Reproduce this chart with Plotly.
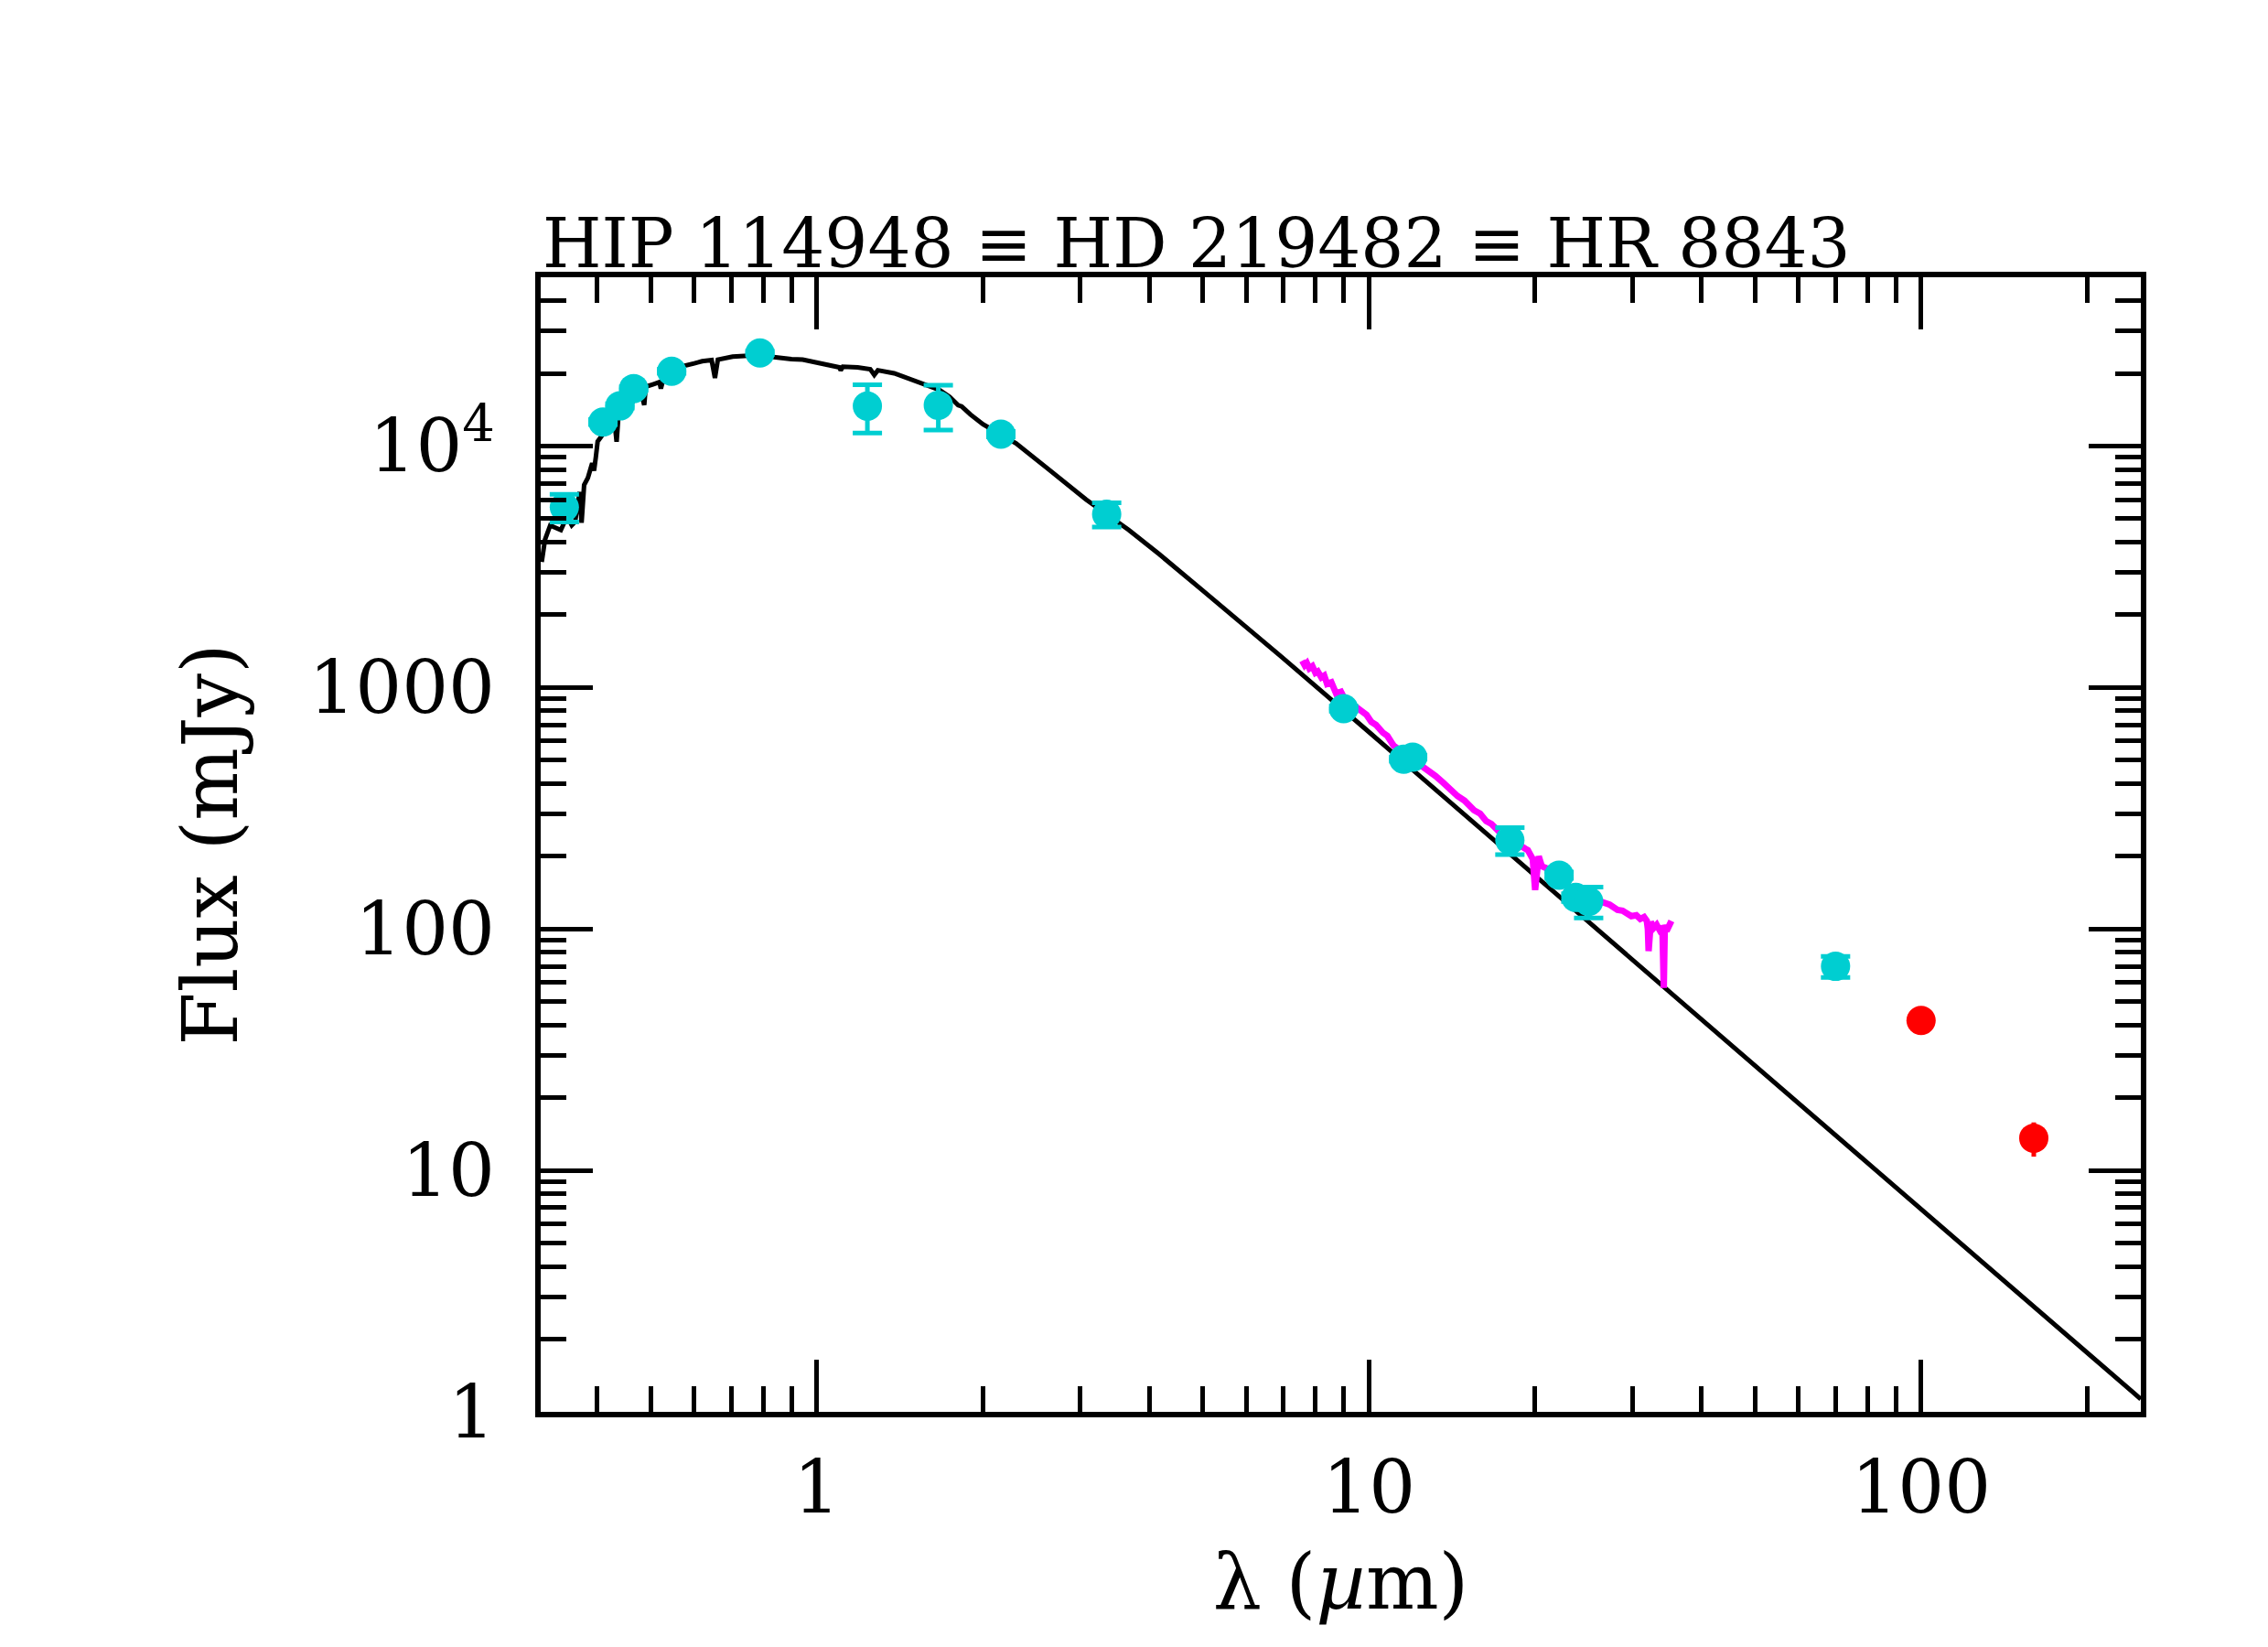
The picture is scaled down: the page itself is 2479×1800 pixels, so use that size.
import plotly.graph_objects as go

# photometry (cyan)
phot_wave = [0.349, 0.410, 0.440, 0.466, 0.546, 0.789, 1.235, 1.66, 2.155, 3.35,
             9.0, 11.56, 12.0, 18.0, 22.1, 23.7, 25.0, 70.0]
phot_flux = [5580, 12570, 14660, 17300, 20400, 24300, 14630, 14750, 11200, 5220,
             817, 505, 515, 233, 167, 135, 130, 70]
phot_err = [730, 300, 300, 300, 400, 400, 3300, 3100, 300, 600,
            20, 10, 10, 30, 5, 5, 19, 7]

# far-IR photometry (red)
fir_wave = [100.0, 160.0]
fir_flux = [41.8, 13.6]
fir_err = [1.5, 2.2]

# stellar photosphere model (black)
model_wave = [0.3176, 0.322, 0.329, 0.336, 0.344, 0.350, 0.355, 0.360, 0.365, 0.372,
              0.375, 0.379, 0.385, 0.392, 0.395, 0.398, 0.401, 0.408, 0.420, 0.430,
              0.434, 0.437, 0.450, 0.457, 0.470, 0.480, 0.487, 0.490, 0.505, 0.519,
              0.522, 0.527, 0.550, 0.575, 0.600, 0.620, 0.645, 0.654, 0.662, 0.704,
              0.740, 0.780, 0.815, 0.852, 0.900, 0.943, 1.005, 1.05, 1.099, 1.105,
              1.115, 1.186, 1.25, 1.271, 1.29, 1.381, 1.45, 1.529, 1.60, 1.671,
              1.74, 1.803, 1.83, 1.897, 2.0, 2.296, 2.607, 3.075, 3.674, 4.173,
              5.0, 6.11, 6.93, 10.0, 20.0, 38.0, 100.0, 250.0]
model_flux = [3311, 4100, 4690, 4600, 4490, 4900, 4990, 4700, 4850, 6450,
              4810, 6900, 7380, 8500, 7900, 9000, 10440, 11030, 12000, 12800,
              10410, 13000, 13900, 14330, 16000, 17000, 14790, 17600, 18000, 18390,
              17300, 18800, 20500, 21490, 22000, 22440, 22700, 19140, 22800, 23440,
              23600, 23810, 23500, 23120, 22900, 22790, 22010, 21600, 21180, 20590,
              21300, 21180, 20800, 19710, 20600, 20000, 19200, 18340, 17600, 17040,
              16000, 14760, 14600, 13520, 12300, 10260, 8136, 5999, 4487, 3561,
              2520, 1726, 1346, 654, 166, 46.7, 6.9, 1.13]

# IRS spectrum (magenta)
irs_wave = [7.57, 7.65, 7.72, 7.8, 7.9, 8.0, 8.08, 8.2, 8.3, 8.4,
            8.55, 8.72, 8.9, 9.05, 9.2, 9.4, 9.66, 9.9, 10.1, 10.3,
            10.6, 10.8, 11.08, 11.4, 11.9, 12.3, 12.77, 13.2, 13.6, 14.0,
            14.47, 14.9, 15.5, 15.9, 16.3, 16.67, 17.2, 17.6, 17.9, 18.5,
            19.19, 19.4, 19.6, 19.8, 20.0, 20.15, 20.3, 20.56, 21.0, 21.77,
            23.0, 24.5, 26.0, 26.65, 27.3, 28.2, 28.8, 29.87, 30.5, 31.0,
            31.5, 31.86, 32.0, 32.1, 32.2, 32.4, 32.8, 33.2, 33.6, 34.0,
            34.2, 34.35, 34.6, 35.0, 35.3]
irs_flux = [1290, 1235, 1262, 1200, 1225, 1150, 1165, 1100, 1120, 1035,
            1050, 945, 960, 890, 875, 840, 795, 770, 720, 700,
            650, 630, 575, 550, 510, 485, 460, 430, 405, 380,
            355, 340, 310, 300, 280, 272, 255, 240, 238, 225,
            215, 212, 205, 195, 145, 190, 200, 182, 178, 168,
            150, 137, 131, 127, 126, 120, 119, 113, 114, 110,
            112, 108, 100, 81, 103, 107, 101, 104, 99, 102,
            57, 104, 98, 106, 108]

x_ticks = [1, 10, 100]
y_ticks = [1, 10, 100, 1000, 10000]
y_text = ["1", "10", "100", "1000", "10<sup>4</sup>"]

cyan = "#00CED1"
font = "DejaVu Serif"

fig = go.Figure()
fig.add_trace(go.Scatter(x=model_wave, y=model_flux, mode="lines",
                         line=dict(color="black", width=5)))
fig.add_trace(go.Scatter(x=irs_wave, y=irs_flux, mode="lines",
                         line=dict(color="#FF00FF", width=7)))
fig.add_trace(go.Scatter(x=phot_wave, y=phot_flux, mode="markers",
                         marker=dict(color=cyan, size=32),
                         error_y=dict(type="data", array=phot_err, color=cyan,
                                      thickness=5, width=16)))
fig.add_trace(go.Scatter(x=fir_wave, y=fir_flux, mode="markers",
                         marker=dict(color="#FF0000", size=32),
                         error_y=dict(type="data", array=fir_err, color="#FF0000",
                                      thickness=5, width=0)))

x_minor = [m * 10.0 ** e for e in range(-1, 3) for m in range(2, 10)]
y_minor = [m * 10.0 ** e for e in range(0, 5) for m in range(2, 10)]

axis = dict(showline=True, linewidth=6, linecolor="black", mirror="allticks",
            ticks="inside", ticklen=57, tickwidth=5, tickcolor="black",
            showgrid=False, zeroline=False, automargin=False,
            tickfont=dict(family=font, size=80, color="black"))

fig.update_xaxes(type="log", range=[-0.5, 2.398], tickmode="array",
                 tickvals=x_ticks, ticktext=[str(v) for v in x_ticks],
                 ticklabelstandoff=8,
                 minor=dict(tickmode="array", tickvals=x_minor, ticks="inside",
                            ticklen=28, tickwidth=5, tickcolor="black"),
                 title=dict(text="λ (<i>µ</i>m)", standoff=30,
                            font=dict(family=font, size=84, color="black")),
                 **axis)
fig.update_yaxes(type="log", range=[0, 4.699], tickmode="array",
                 tickvals=y_ticks, ticktext=y_text,
                 ticklabelstandoff=28,
                 minor=dict(tickmode="array", tickvals=y_minor, ticks="inside",
                            ticklen=28, tickwidth=5, tickcolor="black"),
                 title=dict(text="Flux (mJy)", standoff=52,
                            font=dict(family=font, size=84, color="black")),
                 **axis)

fig.add_annotation(text="HIP 114948 ≡ HD 219482 ≡ HR 8843", xref="paper", yref="paper",
                   x=0, y=1, xanchor="left", yanchor="bottom", yshift=-8,
                   showarrow=False,
                   font=dict(family=font, size=74, color="black"))

# page body adds 8px around the figure
fig.update_layout(width=2471, height=1792, showlegend=False,
                  paper_bgcolor="white", plot_bgcolor="white",
                  margin=dict(l=583, r=139, t=295, b=257))

fig.write_html("out.html")
